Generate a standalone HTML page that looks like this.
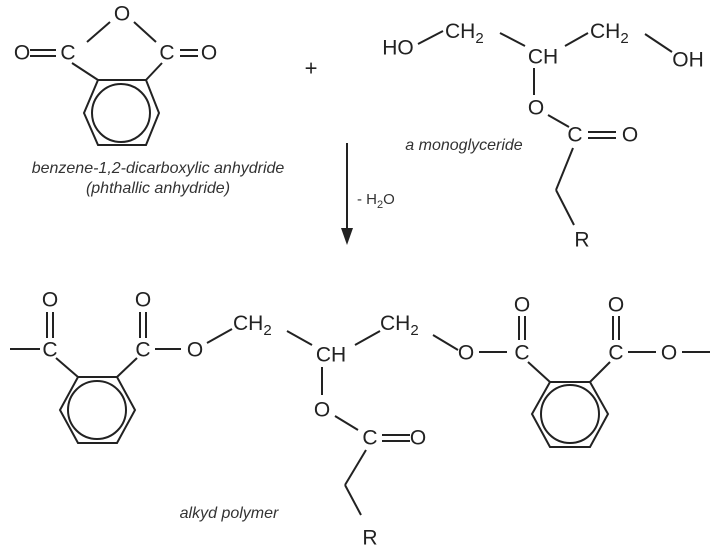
<!DOCTYPE html>
<html><head><meta charset="utf-8"><style>
html,body{margin:0;padding:0;background:#fff}
svg{display:block}
text{font-family:"Liberation Sans",sans-serif;fill:#222}
.a{font-size:21px;text-anchor:middle;dominant-baseline:central}
.s{font-size:14px}
.i{font-size:16px;font-style:italic;fill:#333;text-anchor:middle}
</style></head><body>
<svg width="713" height="550" viewBox="0 0 713 550" xmlns="http://www.w3.org/2000/svg">
<g stroke="#222" stroke-width="2" fill="none">
<line x1="110" y1="22" x2="87" y2="42"/><line x1="134" y1="22" x2="156" y2="42"/>
<line x1="30" y1="50" x2="56" y2="50"/><line x1="30" y1="56" x2="56" y2="56"/>
<line x1="180" y1="50" x2="198" y2="50"/><line x1="180" y1="56" x2="198" y2="56"/>
<line x1="72" y1="63" x2="98" y2="80"/><line x1="162" y1="63" x2="146" y2="80"/>
<polygon points="98,80 146,80 159,113 146,145 98,145 84,113"/>
<circle cx="121" cy="113" r="29"/>
<line x1="347" y1="143" x2="347" y2="232"/>
<line x1="418" y1="44" x2="443" y2="31"/><line x1="500" y1="33" x2="525" y2="46"/>
<line x1="565" y1="46" x2="588" y2="33"/><line x1="645" y1="34" x2="672" y2="52"/>
<line x1="534" y1="68" x2="534" y2="95"/><line x1="548" y1="115" x2="569" y2="127"/>
<line x1="588" y1="132" x2="616" y2="132"/><line x1="588" y1="138" x2="616" y2="138"/>
<line x1="573" y1="148" x2="556" y2="190"/><line x1="556" y1="190" x2="574" y2="225"/>
<line x1="10" y1="349" x2="40" y2="349"/>
<line x1="47" y1="312" x2="47" y2="338"/><line x1="53" y1="312" x2="53" y2="338"/>
<line x1="140" y1="312" x2="140" y2="338"/><line x1="146" y1="312" x2="146" y2="338"/>
<line x1="56" y1="358" x2="78" y2="377"/><line x1="137" y1="358" x2="117" y2="377"/>
<polygon points="78,377 117,377 135,410 117,443 78,443 60,410"/>
<circle cx="97" cy="410" r="29"/>
<line x1="155" y1="349" x2="181" y2="349"/>
<line x1="207" y1="343" x2="232" y2="329"/><line x1="287" y1="331" x2="312" y2="345"/>
<line x1="355" y1="345" x2="380" y2="331"/><line x1="433" y1="335" x2="458" y2="350"/>
<line x1="322" y1="367" x2="322" y2="395"/><line x1="335" y1="416" x2="358" y2="430"/>
<line x1="382" y1="435" x2="410" y2="435"/><line x1="382" y1="441" x2="410" y2="441"/>
<line x1="366" y1="450" x2="345" y2="485"/><line x1="345" y1="485" x2="361" y2="515"/>
<line x1="479" y1="352" x2="507" y2="352"/>
<line x1="519" y1="316" x2="519" y2="340"/><line x1="525" y1="316" x2="525" y2="340"/>
<line x1="613" y1="316" x2="613" y2="340"/><line x1="619" y1="316" x2="619" y2="340"/>
<line x1="528" y1="362" x2="550" y2="382"/><line x1="610" y1="362" x2="590" y2="382"/>
<polygon points="550,382 590,382 608,414 590,447 550,447 532,414"/>
<circle cx="570" cy="414" r="29"/>
<line x1="628" y1="352" x2="656" y2="352"/><line x1="682" y1="352" x2="710" y2="352"/>
</g>
<polygon points="341,228 353,228 347,245" fill="#222"/>
<text class="a" x="122" y="14">O</text>
<text class="a" x="22" y="53">O</text><text class="a" x="68" y="53">C</text>
<text class="a" x="167" y="53">C</text><text class="a" x="209" y="53">O</text>
<text class="a" x="311" y="68" style="font-size:22px">+</text>
<text class="i" x="158" y="173">benzene-1,2-dicarboxylic anhydride</text>
<text class="i" x="158" y="193">(phthallic anhydride)</text>
<text x="357" y="204" style="font-size:15px;fill:#333">- H<tspan dy="4" style="font-size:11px">2</tspan><tspan dy="-4">O</tspan></text>
<text class="a" x="398" y="48">HO</text>
<text x="445" y="38" style="font-size:21px">CH<tspan dy="5" style="font-size:15px">2</tspan></text>
<text class="a" x="543" y="57">CH</text>
<text x="590" y="38" style="font-size:21px">CH<tspan dy="5" style="font-size:15px">2</tspan></text>
<text class="a" x="688" y="60">OH</text>
<text class="a" x="536" y="108">O</text>
<text class="i" x="464" y="150">a monoglyceride</text>
<text class="a" x="575" y="135">C</text><text class="a" x="630" y="135">O</text>
<text class="a" x="582" y="240">R</text>
<text class="a" x="50" y="300">O</text><text class="a" x="50" y="350">C</text>
<text class="a" x="143" y="300">O</text><text class="a" x="143" y="350">C</text>
<text class="a" x="195" y="350">O</text>
<text x="233" y="330" style="font-size:21px">CH<tspan dy="5" style="font-size:15px">2</tspan></text>
<text class="a" x="331" y="355">CH</text>
<text class="a" x="322" y="410">O</text>
<text class="a" x="370" y="438">C</text><text class="a" x="418" y="438">O</text>
<text class="a" x="370" y="538">R</text>
<text x="380" y="330" style="font-size:21px">CH<tspan dy="5" style="font-size:15px">2</tspan></text>
<text class="a" x="466" y="353">O</text>
<text class="a" x="522" y="305">O</text><text class="a" x="522" y="353">C</text>
<text class="a" x="616" y="305">O</text><text class="a" x="616" y="353">C</text>
<text class="a" x="669" y="353">O</text>
<text class="i" x="229" y="518">alkyd polymer</text>
</svg>
</body></html>
